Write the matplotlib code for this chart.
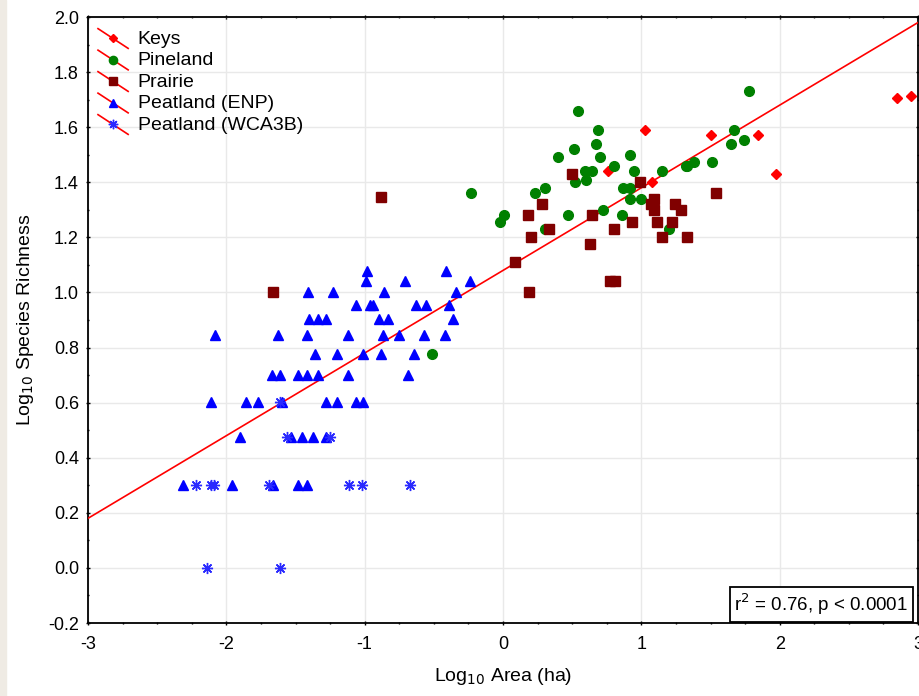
import matplotlib
matplotlib.use("Agg")
import matplotlib.pyplot as plt
import numpy as np
from matplotlib.lines import Line2D
from matplotlib.legend_handler import HandlerBase
from matplotlib.patches import Rectangle

plt.rcParams['font.family'] = ['Liberation Sans', 'DejaVu Sans']
plt.rcParams['axes.unicode_minus'] = False

# log10 values
keys_x = [1.03, 0.76, 1.08, 1.50, 1.84, 1.97, 2.85, 2.95]
keys_y = [1.59, 1.44, 1.40, 1.57, 1.57, 1.43, 1.705, 1.715]

pine_x = [0.54, 0.69, 0.67, 0.51, 0.70, 0.40, 0.92, 0.80, 0.59, 0.64, 0.60, 0.52,
          0.95, 1.15, 1.33, 0.30, 0.23, -0.23, 0.87, 0.92, 0.92, 1.00, 0.72, 0.47,
          0.86, 0.01, -0.02, 0.30, 1.20, 1.78, 1.67, 1.65, 1.74, 1.32, 1.38, 1.51,
          -0.51]
pine_y = [1.66, 1.59, 1.54, 1.52, 1.49, 1.49, 1.50, 1.46, 1.44, 1.44, 1.41, 1.40,
          1.44, 1.44, 1.46, 1.38, 1.36, 1.36, 1.38, 1.38, 1.34, 1.34, 1.30, 1.28,
          1.28, 1.28, 1.255, 1.23, 1.23, 1.73, 1.59, 1.54, 1.555, 1.46, 1.475, 1.475,
          0.778]

prairie_x = [0.50, 0.28, 0.18, 0.33, 0.20, 0.64, 0.80, 0.93, 0.63, 0.09, 0.77, 0.81,
             0.19, 0.99, 1.09, 1.07, 1.09, 1.24, 1.29, 1.11, 1.22, 1.15, 1.33, 1.54,
             -1.66, -0.88]
prairie_y = [1.43, 1.32, 1.28, 1.23, 1.20, 1.28, 1.23, 1.255, 1.175, 1.11, 1.04, 1.04,
             1.00, 1.40, 1.34, 1.32, 1.30, 1.32, 1.30, 1.255, 1.255, 1.20, 1.20, 1.36,
             1.00, 1.345]

enp_rows = {
    1.079: [-0.98, -0.41],
    1.041: [-0.99, -0.71, -0.24],
    1.000: [-1.41, -1.23, -0.86, -0.34],
    0.954: [-1.06, -0.96, -0.94, -0.63, -0.56, -0.39],
    0.903: [-1.40, -1.34, -1.28, -0.90, -0.83, -0.36],
    0.845: [-2.08, -1.63, -1.42, -1.12, -0.87, -0.75, -0.57, -0.42],
    0.778: [-1.36, -1.20, -1.01, -0.88, -0.64],
    0.699: [-1.67, -1.61, -1.48, -1.42, -1.34, -1.12, -0.69],
    0.602: [-2.11, -1.86, -1.77, -1.60, -1.28, -1.20, -1.06, -1.01],
    0.477: [-1.90, -1.53, -1.45, -1.37, -1.28],
    0.301: [-2.31, -1.96, -1.66, -1.48, -1.42],
}
enp_x = [x for y, xs in enp_rows.items() for x in xs]
enp_y = [y for y, xs in enp_rows.items() for x in xs]

wca_x = [-1.61, -1.56, -1.25, -2.22, -2.11, -2.09, -1.69, -1.11, -1.02, -0.67, -2.14, -1.61]
wca_y = [0.602, 0.477, 0.477, 0.301, 0.301, 0.301, 0.301, 0.301, 0.301, 0.301, 0.0, 0.0]

# fitted line
intercept = 1.08
slope = 0.30

fig = plt.figure(figsize=(9.19, 6.96), dpi=100)
fig.patches.append(Rectangle((0, 0), 6 / 919, 1, transform=fig.transFigure,
                             color='#efebe4', zorder=0))
ax = fig.add_axes([88 / 919, 1 - 623 / 696, 830 / 919, 606 / 696])

ax.grid(True, color='#e9e9e9', lw=1)
ax.set_axisbelow(True)

xl = np.array([-3, 3])
ax.plot(xl, intercept + slope * xl, color='red', lw=1.2, zorder=3)

ax.plot(keys_x, keys_y, ls='none', marker='D', ms=5, color='red', mec='red', label='Keys', zorder=4)
ax.plot(pine_x, pine_y, ls='none', marker='o', ms=7, color='green', mec='green', label='Pineland', zorder=4)
ax.plot(prairie_x, prairie_y, ls='none', marker='s', ms=7, color='#800000', mec='#800000', label='Prairie', zorder=4)
ax.plot(enp_x, enp_y, ls='none', marker='^', ms=7.5, color='blue', mec='blue', label='Peatland (ENP)', zorder=4)
ax.plot(wca_x, wca_y, ls='none', marker=(8, 2, 0), ms=8, color='#2a2aff', mec='#2a2aff', mew=1,
        label='Peatland (WCA3B)', zorder=5)


class DiagHandler(HandlerBase):
    def create_artists(self, legend, orig_handle, xdescent, ydescent, width, height, fontsize, trans):
        ln = Line2D([0, width], [height * 1.1, -0.35 * height], color='red', lw=1.2, transform=trans)
        mk = Line2D([width / 2], [height * 0.38], ls='none', marker=orig_handle.get_marker(),
                    ms=orig_handle.get_markersize() * 0.85, color=orig_handle.get_color(),
                    mec=orig_handle.get_markeredgecolor(), mew=orig_handle.get_markeredgewidth(),
                    transform=trans)
        return [ln, mk]


hs, ls = ax.get_legend_handles_labels()
ax.legend(hs, ls, handler_map={Line2D: DiagHandler()}, loc='upper left', frameon=False,
          fontsize=14, handlelength=1.55, handletextpad=0.5, labelspacing=0.2,
          borderaxespad=0.0, borderpad=0.0, bbox_to_anchor=(10 / 830, 1 - 13 / 606))

ax.set_xlim(-3, 3)
ax.set_ylim(-0.2, 2.0)
ax.set_xticks(np.arange(-3, 4, 1))
ax.set_xticks(np.arange(-3, 3.01, 0.25), minor=True)
ax.set_yticks(np.arange(-0.2, 2.01, 0.2))
ax.set_yticks(np.arange(-0.2, 2.01, 0.1), minor=True)
ax.set_yticklabels(['%.1f' % v for v in np.arange(-0.2, 2.01, 0.2)])
ax.tick_params(which='both', direction='inout', top=True, right=True, labelsize=13, width=1)
ax.tick_params(which='major', length=3)
ax.tick_params(which='minor', length=2)
ax.tick_params(axis='x', which='major', pad=8)
ax.tick_params(axis='y', which='major', pad=5)
for s in ax.spines.values():
    s.set_linewidth(1.3)

ax.set_xlabel('Log$_{10}$ Area (ha)', fontsize=14, labelpad=9)
ax.set_ylabel('Log$_{10}$ Species Richness', fontsize=14, labelpad=9)

ax.text(0.988, 0.01, 'r$^2$ = 0.76, p < 0.0001', transform=ax.transAxes, ha='right', va='bottom',
        fontsize=13.5, zorder=6,
        bbox=dict(boxstyle='square,pad=0.25', fc='white', ec='black', lw=1.3))

fig.savefig('out.png', dpi=100)
